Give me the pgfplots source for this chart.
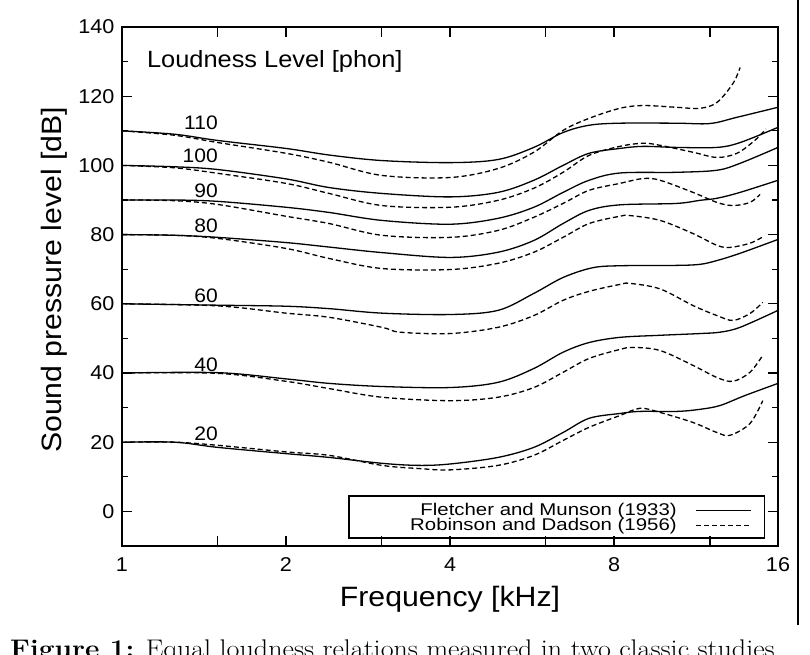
\documentclass[border=0pt]{standalone}
\usepackage{fontspec}
\usepackage{graphicx}
\usepackage{pgfplots}
\pgfplotsset{compat=1.18}
\newfontfamily\af[FakeStretch=1.08]{Liberation Sans}
\newfontfamily\lf[FakeStretch=1.2]{Liberation Sans}

\begin{document}
\begin{tikzpicture}
\begin{axis}[
  at={(122pt,108pt)}, anchor=south west,
  scale only axis, width=656pt, height=519pt,
  xmode=log, log basis x=2, xmin=1, xmax=16, ymin=-10, ymax=140,
  xtick={1,1.5,2,3,4,6,8,12,16},
  xticklabels={1,,2,,4,,8,,16},
  ytick={0,20,...,140},
  minor ytick={10,30,...,130},
  tick align=inside,
  major tick length=10pt, minor tick length=6pt,
  axis line style={line width=1.3pt},
  tick style={line width=1.1pt, black},
  /pgf/number format/assume math mode=true,
  every tick label/.append style={font=\af\fontsize{20}{20}\selectfont},
  xticklabel style={yshift=-8pt},
  yticklabel style={xshift=-4pt},
  xlabel={Frequency [kHz]},
  xlabel style={font=\af\fontsize{28}{28}\selectfont, at={(axis description cs:0.5,-0.1156)}, anchor=base},
  ylabel={Sound pressure level [dB]},
  ylabel style={font=\af\fontsize{28}{28}\selectfont, at={(axis description cs:-0.0915,0.513)}, anchor=base},
  legend style={draw=none, fill=none, at={(axis description cs:0.9604,0.025)}, anchor=south east,
    inner sep=0pt, outer sep=0pt, row sep=0pt, column sep=19pt,
    font=\lf\fontsize{17}{17}\selectfont,
    nodes={inner sep=0pt, text height=12pt, text depth=3pt}},
  legend cell align=right,
  legend plot pos=right,
  legend image code/.code={\draw[#1] (0pt,0pt) -- (55pt,0pt);},
  every axis plot/.append style={black, line width=1.3pt, smooth, tension=0.55},
]
% 110 phon
\addplot[solid] coordinates {(1,110) (1.25,109) (1.5,107.2) (2,104.9) (2.4,103.0) (3,101.4) (4,100.8) (4.9,101.7) (5.7,105.2) (6.45,109.5) (7.2,111.6) (8.2,112.2) (10.4,112.2) (12,112.1) (13.45,113.9) (16,116.8)};
\addlegendentry{Fletcher and Munson (1933)}
\addplot[dash pattern=on 5pt off 3pt] coordinates {(1,110) (1.25,108.7) (1.5,106.6) (2,103.5) (2.4,100.9) (3,97.1) (4,96.5) (4.9,99.1) (5.7,103.8) (6.45,110.1) (7.2,113.6) (8.2,116.5) (9.05,117.3) (10.4,116.8) (11.5,116.5) (12.36,118.2) (13.23,123.7) (13.63,128.3)};
\addlegendentry{Robinson and Dadson (1956)}
% 100 phon
\addplot[solid, forget plot] coordinates {(1,100) (1.25,99.6) (1.5,98.8) (2,96.1) (2.4,93.6) (3,91.9) (4,90.9) (4.9,92.2) (5.7,95.7) (6.45,100) (7.2,103.5) (8.2,104.9) (9.05,105.5) (10.4,105.2) (12.36,105.2) (13.63,106.6) (16,111)};
\addplot[dash pattern=on 5pt off 3pt, forget plot] coordinates {(1,100) (1.25,99.3) (1.5,97.7) (2,94.8) (2.4,91.9) (3,88.4) (4,87.9) (4.9,89.9) (5.7,93.4) (6.45,98) (7.2,102.9) (8.2,105.5) (9.05,106.4) (9.72,105.8) (11.17,103.8) (12.36,102.3) (13.45,103.5) (14.5,107.2) (15.2,110.5)};
% 90 phon
\addplot[solid, forget plot] coordinates {(1,90) (1.25,90) (1.5,89.6) (2,87.9) (2.4,86.4) (3,84.1) (4,83.0) (4.9,84.7) (5.7,87.9) (6.45,92.2) (7.2,95.7) (8.2,97.8) (10.4,98) (12.36,98.6) (13.63,100.6) (16,105.2)};
\addplot[dash pattern=on 5pt off 3pt, forget plot] coordinates {(1,90) (1.25,89.8) (1.5,88.7) (2,85.3) (2.4,83.2) (3,79.8) (4,79.2) (4.9,81.2) (5.7,85) (6.45,89) (7.2,92.8) (8.2,94.8) (9.05,96.2) (9.72,95.7) (11.17,92.2) (12.36,89.3) (13.23,88.4) (14.21,89.3) (14.83,91.6)};
% 80 phon
\addplot[solid, forget plot] coordinates {(1,80) (1.25,79.8) (1.5,79.2) (2,77.7) (2.4,76.4) (3,74.8) (4,73.4) (4.9,74.9) (5.7,78.3) (6.45,83.2) (7.2,87) (8.2,88.6) (10.4,89) (11.5,89.9) (12.36,90.5) (13.63,92.2) (16,95.7)};
\addplot[dash pattern=on 5pt off 3pt, forget plot] coordinates {(1,80) (1.25,79.8) (1.5,78.9) (2,76) (2.4,73.1) (3,70.2) (4,69.9) (4.9,71.7) (5.7,74.9) (6.45,79.2) (7.2,83.2) (8.2,85.3) (8.56,85.5) (9.72,84.1) (11.17,80.3) (12.36,76.9) (13.06,76.3) (14.21,77.5) (14.95,79.2)};
% 60 phon
\addplot[solid, forget plot] coordinates {(1,60) (1.5,59.6) (2,59.3) (2.4,58.6) (3,57.3) (4,56.9) (4.9,58.1) (5.7,63) (6.45,67.6) (7.3,70.4) (8.2,71.0) (10.4,71.1) (11.5,71.4) (12.36,72.5) (13.63,74.6) (16,78.6)};
\addplot[dash pattern=on 5pt off 3pt, forget plot] coordinates {(1,60) (1.5,59.4) (2,57.3) (2.4,56.1) (3,53.2) (3.24,51.8) (4,51.4) (4.9,53.2) (5.7,56.6) (6.45,61) (7.2,63.6) (8.2,65.6) (8.56,65.9) (9.72,64.3) (11.17,59.5) (12.36,56.6) (13.23,55.2) (14.21,57.2) (15,60.4)};
% 40 phon
\addplot[solid, forget plot] coordinates {(1,40) (1.5,40.1) (2,38.3) (2.4,37) (3,36.1) (4,35.8) (4.9,37.3) (5.7,41.3) (6.45,46) (7.2,48.8) (8.2,50.3) (9.72,50.9) (11.5,51.4) (12.52,51.8) (13.63,53.2) (16,58.1)};
\addplot[dash pattern=on 5pt off 3pt, forget plot] coordinates {(1,40) (1.5,39.9) (2,37.6) (2.4,35.5) (3,33) (4,32) (4.9,33) (5.7,35.8) (6.45,40.2) (7.2,44.2) (8.2,46.8) (8.67,47.4) (9.72,46.5) (11.17,42.2) (12.36,38.7) (13.23,37.6) (14.21,40.2) (15,45.1)};
% 20 phon
\addplot[solid, forget plot] coordinates {(1,20) (1.25,20) (1.5,18.5) (2,16.7) (2.4,15.6) (3,13.9) (3.5,13.3) (4,13.7) (4.9,15.6) (5.7,18.5) (6.45,22.8) (7.2,26.9) (8.2,28.3) (8.93,28.9) (10.44,28.9) (11.5,29.5) (12.52,30.6) (13.92,33.5) (16,37)};
\addplot[dash pattern=on 5pt off 3pt, forget plot] coordinates {(1,20) (1.25,20) (1.5,19.1) (2,17.2) (2.4,16.2) (3,13.3) (3.5,12.4) (4,12) (4.9,13.3) (5.7,16.2) (6.45,20.5) (7.2,24.3) (8.2,27.7) (8.93,29.8) (9.72,28.6) (11.17,25.7) (12.36,22.8) (13.06,22) (14.21,25.4) (15,32)};

\draw[line width=1.2pt] (rel axis cs:0.346,0.0154) rectangle (rel axis cs:0.980,0.0963);
\node[anchor=base west, inner sep=0pt, font=\af\fontsize{23.5}{23.5}\selectfont] at (rel axis cs:0.038,0.921) {Loudness Level [phon]};
\begin{scope}[every node/.style={anchor=base east, inner sep=0pt, font=\af\fontsize{19.5}{19.5}\selectfont}]
\node at (axis cs:1.5,110.5) {110};
\node at (axis cs:1.5,100.9) {100};
\node at (axis cs:1.5,90.8) {90};
\node at (axis cs:1.5,80.6) {80};
\node at (axis cs:1.5,60.4) {60};
\node at (axis cs:1.5,40.5) {40};
\node at (axis cs:1.5,20.5) {20};
\end{scope}
\end{axis}
\draw[line width=1.6pt] (798pt,29pt) -- (798pt,660pt);
\node[anchor=base west, inner sep=0pt, font=\fontsize{25.5}{30}\selectfont] at (10pt,-3pt) {\scalebox{1.1}[1]{\textbf{Figure 1:} Equal loudness relations measured in two classic studies}};
\pgfresetboundingbox
\useasboundingbox (0pt,0pt) rectangle (810pt,654pt);
\end{tikzpicture}
\end{document}
